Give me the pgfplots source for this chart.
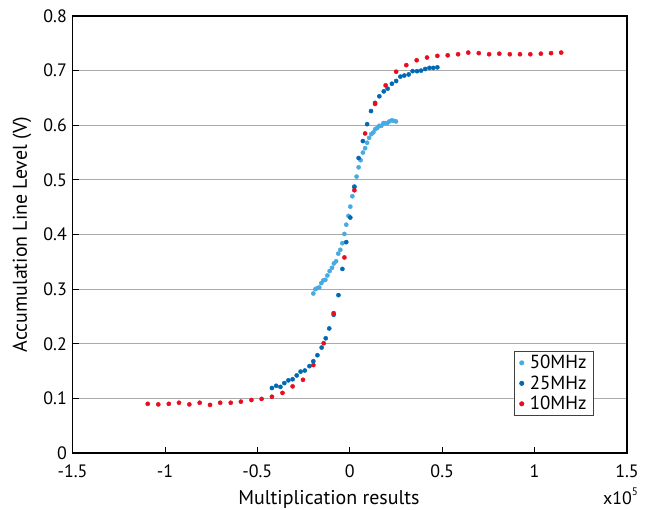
\documentclass[border=0pt]{standalone}
\usepackage{fontspec}
\setmainfont{PT Sans}
\usepackage{pgfplots}
\pgfplotsset{compat=1.18}
\definecolor{c50}{RGB}{72,170,226}
\definecolor{c25}{RGB}{0,105,180}
\definecolor{c10}{RGB}{232,14,32}
\definecolor{gridgray}{RGB}{170,170,170}

\begin{document}
\begin{tikzpicture}
\path[use as bounding box] (-72.5bp,-57bp) rectangle (574.5bp,453bp);
\begin{axis}[
    scale only axis,
    width=554.5bp, height=437bp,
    xmin=-1.5, xmax=1.5, ymin=0, ymax=0.8,
    xtick={-1.5,-1,-0.5,0,0.5,1,1.5},
    ytick={0,0.1,0.2,0.3,0.4,0.5,0.6,0.7,0.8},
    tick pos=left,
    tick align=inside,
    major tick length=6bp,
    tick style={black, line width=0.8bp},
    axis line style={black, line width=1.6bp},
    ymajorgrids,
    grid style={gridgray, line width=1.2bp},
    /pgf/number format/assume math mode=true,
    /pgf/number format/.cd, fixed, precision=1, /pgfplots/.cd,
    ticklabel style={font=\fontsize{18}{21}\selectfont},
    xticklabel style={inner sep=0pt, yshift=-12bp},
    yticklabel style={inner sep=0pt, xshift=-5.5bp},
    xlabel={Multiplication results},
    ylabel={Accumulation Line Level (V)},
    every axis x label/.style={at={(axis description cs:0,0)}, anchor=base,
        xshift=256.5bp, yshift=-51bp, font=\fontsize{20}{24}\selectfont},
    every axis y label/.style={at={(axis description cs:0,0.5)}, xshift=-50.5bp,
        anchor=center, rotate=90, font=\fontsize{20}{24}\selectfont},
    legend style={at={(axis description cs:0.9405,0.2334)}, anchor=north east,
        draw=black!75, line width=0.8bp, font=\fontsize{19}{22}\selectfont,
        inner xsep=5bp, inner ysep=2bp, row sep=1.5bp,
        /tikz/every odd column/.append style={column sep=4bp}},
    legend cell align=left,
    legend image code/.code={\draw[#1,mark repeat=2,mark phase=2] plot coordinates {(0bp,0bp) (5bp,0bp) (10bp,0bp)};},
]
% 50 MHz
\addplot[only marks, mark=*, mark size=2.1bp, color=c50] coordinates {
(-0.197,0.292) (-0.186,0.300) (-0.175,0.302) (-0.165,0.303) (-0.154,0.311)
(-0.143,0.316) (-0.132,0.317) (-0.121,0.325) (-0.109,0.333) (-0.096,0.339)
(-0.086,0.347) (-0.074,0.351) (-0.062,0.365) (-0.051,0.372) (-0.040,0.384)
(-0.029,0.401) (-0.019,0.418) (-0.007,0.434) (0.003,0.451) (0.014,0.470)
(0.025,0.488) (0.037,0.506) (0.048,0.523) (0.059,0.536) (0.071,0.550)
(0.083,0.558) (0.094,0.568) (0.105,0.577) (0.117,0.584) (0.128,0.587)
(0.138,0.593) (0.149,0.595) (0.160,0.599) (0.171,0.599) (0.182,0.604)
(0.193,0.604) (0.203,0.604) (0.214,0.607) (0.228,0.609) (0.239,0.608)
(0.250,0.607)
};
% 25 MHz
\addplot[only marks, mark=*, mark size=2.1bp, color=c25] coordinates {
(-0.421,0.119) (-0.398,0.123) (-0.375,0.121) (-0.354,0.128) (-0.332,0.133)
(-0.309,0.135) (-0.287,0.142) (-0.266,0.149) (-0.243,0.151) (-0.218,0.159)
(-0.197,0.168) (-0.175,0.179) (-0.152,0.193) (-0.130,0.210) (-0.111,0.228)
(-0.087,0.253) (-0.061,0.289) (-0.040,0.337) (-0.019,0.386) (0.003,0.431)
(0.025,0.487) (0.048,0.540) (0.071,0.571) (0.094,0.602) (0.115,0.626)
(0.137,0.641) (0.160,0.653) (0.184,0.662) (0.205,0.667) (0.228,0.676)
(0.251,0.681) (0.274,0.689) (0.295,0.691) (0.319,0.693) (0.340,0.699)
(0.364,0.699) (0.386,0.700) (0.408,0.703) (0.431,0.705) (0.452,0.705)
(0.474,0.706)
};
% 10 MHz
\addplot[only marks, mark=*, mark size=2.1bp, color=c10] coordinates {
(-1.093,0.090) (-1.036,0.089) (-0.979,0.090) (-0.924,0.092) (-0.868,0.089)
(-0.812,0.092) (-0.756,0.088) (-0.701,0.092) (-0.644,0.092) (-0.589,0.094)
(-0.532,0.097) (-0.477,0.099) (-0.421,0.103) (-0.364,0.110) (-0.309,0.122)
(-0.253,0.134) (-0.197,0.161) (-0.141,0.201) (-0.087,0.256) (-0.029,0.358)
(0.025,0.481) (0.083,0.585) (0.137,0.639) (0.194,0.673) (0.251,0.698)
(0.306,0.710) (0.362,0.719) (0.418,0.724) (0.474,0.727) (0.530,0.728)
(0.586,0.730) (0.641,0.733) (0.698,0.732) (0.754,0.730) (0.809,0.731)
(0.866,0.730) (0.921,0.730) (0.977,0.730) (1.034,0.731) (1.089,0.732)
(1.144,0.733)
};
\legend{50MHz, 25MHz, 10MHz}
\end{axis}
\node[anchor=base west, inner sep=0pt, font=\fontsize{18}{21}\selectfont]
  at (530.5bp,-51bp) {x10\raisebox{0.9ex}{\fontsize{11}{12}\selectfont 5}};
\end{tikzpicture}
\end{document}
